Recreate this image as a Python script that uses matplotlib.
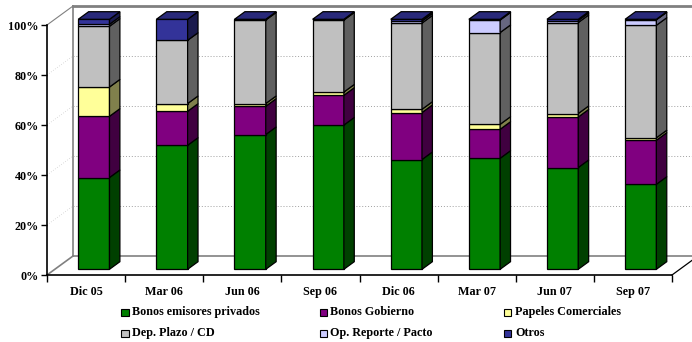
import matplotlib
matplotlib.use("Agg")
import matplotlib.pyplot as plt
from matplotlib.patches import Polygon, Rectangle
import numpy as np

plt.rcParams['font.family'] = ['Liberation Serif', 'DejaVu Serif']
plt.rcParams['font.weight'] = 'bold'
plt.rcParams['font.size'] = 8.7

# composition of the portfolio, % of total
periods = ['Dic 05', 'Mar 06', 'Jun 06', 'Sep 06', 'Dic 06', 'Mar 07', 'Jun 07', 'Sep 07']
privados = [36.7, 49.6, 53.9, 57.7, 43.9, 44.4, 40.7, 34.0]
gobierno = [24.5, 13.6, 11.3, 11.9, 18.8, 11.6, 20.2, 17.6]
papeles = [11.7, 3.1, 1.1, 1.3, 1.3, 2.0, 1.4, 1.0]
deposito = [24.3, 25.3, 33.4, 28.8, 34.5, 36.7, 36.4, 45.0]
reporte = [0.8, 0.0, 0.0, 0.0, 0.8, 5.0, 0.8, 2.2]
otros = [2.0, 8.4, 0.3, 0.3, 0.7, 0.3, 0.5, 0.2]

series = [privados, gobierno, papeles, deposito, reporte, otros]
names = ['Bonos emisores privados', 'Bonos Gobierno', 'Papeles Comerciales',
         'Dep. Plazo / CD', 'Op. Reporte / Pacto', 'Otros']
front_col = ['#008000', '#800080', '#FFFF99', '#C0C0C0', '#CCCCFF', '#333399']
side_col = ['#004000', '#400040', '#80804C', '#606060', '#666680', '#1A1A4D']
top_col = '#29297A'

W, H = 692, 342
fig = plt.figure(figsize=(W / 100, H / 100), dpi=100)
fig.patch.set_facecolor('white')
ax = fig.add_axes([47 / W, (H - 275) / H, 625 / W, 250 / H])
n = len(periods)
ax.set_xlim(-0.5, n - 0.5)
ax.set_ylim(0, 100)
ax.set_facecolor('none')

# 3d depth of the plot box, in data units
DX, DY = 0.333, 7.6
x0, x1 = -0.5, n - 0.5

# walls and floor
wall = '#808080'
ax.plot([x0 + DX, x1 + DX + 1], [100 + DY, 100 + DY], color=wall, lw=2, clip_on=False, zorder=1)
ax.plot([x0 + DX, x0 + DX], [DY, 100 + DY], color=wall, lw=1.2, clip_on=False, zorder=1)
ax.plot([x0, x0 + DX], [100, 100 + DY], color=wall, lw=0.8, clip_on=False, zorder=1)
ax.plot([x0 + DX, x1 + DX + 1], [DY, DY], color=wall, lw=1.2, clip_on=False, zorder=1)
ax.plot([x0, x0 + DX], [0, DY], color=wall, lw=1.2, clip_on=False, zorder=1)
ax.plot([x1, x1 + DX], [0, DY], color='black', lw=0.9, clip_on=False, zorder=1)
for g in [20, 40, 60, 80]:
    ax.plot([x0 + DX, x1 + DX + 1], [g + DY, g + DY], color='#a0a0a0', lw=0.7,
            ls=(0, (1, 2)), clip_on=False, zorder=1)
    ax.plot([x0, x0 + DX], [g, g + DY], color='#d0d0d0', lw=0.6,
            ls=(0, (1, 2)), clip_on=False, zorder=1)

# stacked 3d bars, standing at 30%..70% of the box depth
bw = 0.40
f0, f1 = 0.30, 0.70
ec = 'black'
lw = 0.9
for i in range(n):
    ox, oy = f0 * DX, f0 * DY
    ddx, ddy = (f1 - f0) * DX, (f1 - f0) * DY
    left = i - bw / 2 + ox
    right = left + bw
    base = oy
    for k, s in enumerate(series):
        v = s[i]
        if v <= 0:
            continue
        ax.add_patch(Rectangle((left, base), bw, v, fc=front_col[k], ec=ec, lw=lw,
                               zorder=3, clip_on=False))
        ax.add_patch(Polygon([[right, base], [right + ddx, base + ddy],
                              [right + ddx, base + v + ddy], [right, base + v]],
                             closed=True, fc=side_col[k], ec=ec, lw=lw, zorder=3, clip_on=False))
        base += v
    ax.add_patch(Polygon([[left, base], [right, base], [right + ddx, base + ddy],
                          [left + ddx, base + ddy]], closed=True, fc=top_col, ec=ec,
                         lw=lw, zorder=3, clip_on=False))

# axes and ticks
for sp in ['top', 'right']:
    ax.spines[sp].set_visible(False)
ax.spines['left'].set_linewidth(1.2)
ax.spines['bottom'].set_linewidth(1.2)
ax.set_yticks(np.arange(0, 101, 20))
ax.set_yticklabels(['%d%%' % t for t in range(0, 101, 20)])
ax.tick_params(axis='y', direction='out', length=4, width=1, pad=2)
ax.set_xticks(range(n))
ax.set_xticklabels(periods)
ax.set_xticks(np.arange(-0.5, n, 1.0), minor=True)
ax.tick_params(axis='x', which='major', length=0, pad=8)
ax.tick_params(axis='x', which='minor', direction='out', length=5, width=1)

# legend, two rows of three
lx = [125, 323, 508]
ly = [312, 333]
for k, name in enumerate(names):
    r, c = divmod(k, 3)
    fig.add_artist(Rectangle(((lx[c] - 3.5) / W, (H - ly[r] - 3.5) / H), 7 / W, 7 / H,
                             transform=fig.transFigure, fc=front_col[k], ec='black', lw=0.8))
    fig.text((lx[c] + 7) / W, (H - ly[r]) / H, name, ha='left', va='center',
             fontweight='bold')

fig.savefig('out.png', dpi=100)
